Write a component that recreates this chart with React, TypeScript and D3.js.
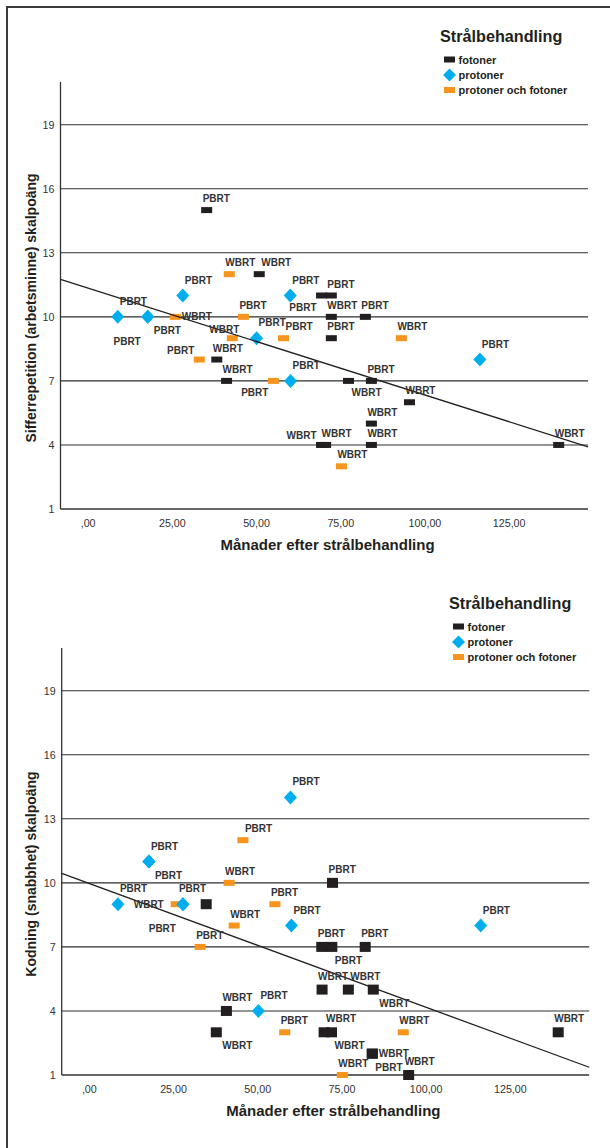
import * as d3 from 'd3'

type Pt = [number, number, string]

// ── Axes / labels ────────────────────────────────────────────────────────────
const X_TICKS = [0, 25, 50, 75, 100, 125]
const X_TICK_LABELS = [',00', '25,00', '50,00', '75,00', '100,00', '125,00']
const Y_TICKS = [1, 4, 7, 10, 13, 16, 19]
const X_DOMAIN: [number, number] = [-8.2, 148.4]
const Y_DOMAIN: [number, number] = [1, 21]

const LEGEND_TITLE = 'Strålbehandling'
const GROUP_NAMES = ['fotoner', 'protoner', 'protoner och fotoner']
const GROUP_COLORS = ['#231f20', '#00aeef', '#f7941d']
const X_TITLE = 'Månader efter strålbehandling'
const Y_TITLES = ['Sifferrepetition (arbetsminne) skalpoäng', 'Kodning (snabbhet) skalpoäng']

// ── Top chart: [months, score, case label] ──────────────────────────────────
const TOP_FOTONER: Pt[] = [
  [35.2, 15, 'PBRT'], [50.8, 12, 'WBRT'], [69.3, 11, 'PBRT'], [72.2, 11, 'PBRT'],
  [72.2, 10, 'WBRT'], [82.3, 10, 'PBRT'], [72.2, 9, 'PBRT'], [38.2, 8, 'WBRT'],
  [41.1, 7, 'WBRT'], [77.3, 7, 'WBRT'], [84.1, 7, 'PBRT'], [95.4, 6, 'WBRT'],
  [84.1, 5, 'WBRT'], [69.3, 4, 'WBRT'], [70.5, 4, 'WBRT'], [84.1, 4, 'WBRT'],
  [139.7, 4, 'WBRT'],
]
const TOP_PROTONER: Pt[] = [
  [8.8, 10, 'PBRT'], [17.7, 10, 'PBRT'], [17.7, 10, 'PBRT'], [28.1, 11, 'PBRT'],
  [60.0, 11, 'PBRT'], [50.0, 9, 'PBRT'], [116.3, 8, 'PBRT'], [60.1, 7, 'PBRT'],
]
const TOP_BOTH: Pt[] = [
  [41.9, 12, 'WBRT'], [25.9, 10, 'WBRT'], [46.1, 10, 'PBRT'], [42.8, 9, 'WBRT'],
  [58.0, 9, 'PBRT'], [93.0, 9, 'WBRT'], [33.0, 8, 'PBRT'], [55.0, 7, 'PBRT'],
  [75.2, 3, 'WBRT'],
]
const TOP_FIT = [11.35, -0.0501] // intercept, slope

// ── Bottom chart ─────────────────────────────────────────────────────────────
const BOT_FOTONER: Pt[] = [
  [72.2, 10, 'PBRT'], [34.7, 9, ''], [69.0, 7, 'PBRT'], [72.0, 7, 'PBRT'],
  [81.9, 7, 'PBRT'], [69.1, 5, 'WBRT'], [76.9, 5, 'WBRT'], [84.3, 5, 'WBRT'],
  [40.7, 4, 'WBRT'], [37.7, 3, 'WBRT'], [69.7, 3, 'WBRT'], [71.9, 3, 'WBRT'],
  [139.2, 3, 'WBRT'], [84.0, 2, 'WBRT'], [84.0, 2, 'PBRT'], [94.8, 1, 'WBRT'],
]
const BOT_PROTONER: Pt[] = [
  [59.7, 14, 'PBRT'], [17.7, 11, 'PBRT'], [17.7, 11, 'PBRT'], [8.5, 9, 'PBRT'],
  [27.8, 9, 'PBRT'], [27.8, 9, 'PBRT'], [60.0, 8, 'PBRT'], [116.2, 8, 'PBRT'],
  [50.2, 4, 'PBRT'],
]
const BOT_BOTH: Pt[] = [
  [45.6, 12, 'PBRT'], [41.5, 10, 'WBRT'], [25.8, 9, 'WBRT'], [55.1, 9, 'PBRT'],
  [43.0, 8, 'WBRT'], [32.9, 7, 'PBRT'], [58.0, 3, 'PBRT'], [93.2, 3, 'WBRT'],
  [75.1, 1, 'WBRT'],
]
const BOT_FIT = [9.97, -0.058]

// label placement hints (same order as the data above)
const TOP_PLACE = [
  ['n', 'ne', 'sw', 'n', 'n', 'n', 'n', 'n', 'n', 's', 'n', 'n', 'n', 'nw', 'n', 'n', 'n'],
  ['ne', 'se', 'sww', 'ne', 'ne', 'ne', 'ne', 'ne'],
  ['n', 'e', 'n', 'nl', 'ne', 'n', 'nw', 'sw', 'n'],
]
const BOT_PLACE = [
  ['n', '', 'n', 's', 'n', 'n', 'ne', 'se', 'n', 'se', 'ne', 's', 'n', 'e', 's', 'n'],
  ['ne', 'ne', 'se', 'ne', 'n', 'sww', 'ne', 'ne', 'ne'],
  ['ne', 'n', 'w', 'n', 'n', 'n', 'n', 'n', 'n'],
]

const FONT = "'Liberation Sans', Arial, sans-serif"
const INK = '#333'

const PANELS = [
  { dx: 0, dy: 0, blackH: 6, xTitleX: 327.5, legendX: 440, legendY: 36,
    groups: [TOP_FOTONER, TOP_PROTONER, TOP_BOTH], place: TOP_PLACE, fit: TOP_FIT, yTitle: Y_TITLES[0] },
  { dx: 1.2, dy: 566, blackH: 10, xTitleX: 333.4, legendX: 449, legendY: 603,
    groups: [BOT_FOTONER, BOT_PROTONER, BOT_BOTH], place: BOT_PLACE, fit: BOT_FIT, yTitle: Y_TITLES[1] },
]

function labelPos(code: string, cx: number, cy: number, hw: number, hh: number) {
  const below = cy + Math.min(hh, 5.5) + 12
  switch (code) {
    case 'n': return { x: cx - 4, y: cy - hh - 5, a: 'start' }
    case 'ne': return { x: cx + 2, y: cy - hh - 5, a: 'start' }
    case 'nw': return { x: cx - 5, y: cy - hh - 3, a: 'end' }
    case 'nl': return { x: cx + 7, y: cy - hh - 2, a: 'end' }
    case 's': return { x: cx + 3, y: below, a: 'start' }
    case 'se': return { x: cx + 6, y: below, a: 'start' }
    case 'sw': return { x: cx - 5, y: below, a: 'end' }
    case 'sww': return { x: cx - 7, y: below + 10.5, a: 'end' }
    case 'e': return { x: cx + hw + 1, y: cy + 3.5, a: 'start' }
    case 'w': return { x: cx - hw - 7, y: cy + 3.5, a: 'end' }
  }
  return null
}

function Marker({ g, cx, cy, h }: { g: number; cx: number; cy: number; h: number }) {
  if (g === 1) {
    return <path d={`M${cx},${cy - 7}L${cx + 6.5},${cy}L${cx},${cy + 7}L${cx - 6.5},${cy}Z`} fill={GROUP_COLORS[1]} />
  }
  return <rect x={cx - 5.5} y={cy - h / 2} width={11} height={h} fill={GROUP_COLORS[g]} />
}

function Panel({ p }: { p: typeof PANELS[number] }) {
  const x = d3.scaleLinear(X_DOMAIN, [60.5 + p.dx, 588 + p.dx])
  const y = d3.scaleLinear(Y_DOMAIN, [509 + p.dy, 82 + p.dy])
  const [x0, x1] = x.range()
  const [yb, yt] = y.range()
  const line = d3.line<number>().x(d => x(d)).y(d => y(p.fit[0] + p.fit[1] * d))
  const order = [0, 2, 1]
  const sizeOf = (g: number) => (g === 0 ? p.blackH : g === 2 ? 6 : 14)

  return (
    <g>
      {Y_TICKS.filter(t => t !== 1).map(t => (
        <line key={t} x1={x0} x2={x1} y1={y(t)} y2={y(t)} stroke="#2e2e2e" strokeWidth={1.1} />
      ))}
      <line x1={x0} x2={x1} y1={yb} y2={yb} stroke="#333" strokeWidth={1.3} />
      <line x1={x0} x2={x0} y1={yt} y2={yb} stroke="#333" strokeWidth={1.3} />

      {Y_TICKS.map(t => (
        <text key={t} x={x0 - 6} y={y(t) + 4} textAnchor="end" fontSize={10.7} fill={INK} fontFamily={FONT}>{t}</text>
      ))}
      {X_TICKS.map((t, i) => (
        <text key={t} x={x(t)} y={yb + 18} textAnchor="middle" fontSize={10.7} fill={INK} fontFamily={FONT}>{X_TICK_LABELS[i]}</text>
      ))}
      <text x={p.xTitleX} y={yb + 41} textAnchor="middle" fontSize={15} fontWeight="bold" fill="#231f20" fontFamily={FONT}>{X_TITLE}</text>
      <text transform={`translate(36,${yb - 201}) rotate(-90)`} textAnchor="middle" fontSize={14} fontWeight="bold" fill="#231f20" fontFamily={FONT}>{p.yTitle}</text>

      {order.map(g => p.groups[g].map((d, i) => (
        <Marker key={`${g}-${i}`} g={g} cx={x(d[0])} cy={y(d[1])} h={sizeOf(g)} />
      )))}

      <path d={line(X_DOMAIN) ?? ''} fill="none" stroke="#231f20" strokeWidth={1.3} />

      {order.map(g => p.groups[g].map((d, i) => {
        if (!d[2]) return null
        const hh = g === 1 ? 7 : sizeOf(g) / 2
        const hw = g === 1 ? 6.5 : 5.5
        const lp = labelPos(p.place[g][i], x(d[0]), y(d[1]), hw, hh)
        if (!lp) return null
        return (
          <text key={`l${g}-${i}`} x={lp.x} y={lp.y} textAnchor={lp.a} fontSize={10} fontWeight="bold" fill={INK} fontFamily={FONT}>{d[2]}</text>
        )
      }))}

      {/* legend */}
      <text x={p.legendX} y={p.legendY + 5.5} fontSize={16.2} fontWeight="bold" fill="#231f20" fontFamily={FONT}>{LEGEND_TITLE}</text>
      {GROUP_NAMES.map((name, g) => {
        const cy = p.legendY + [23.5, 39, 54][g]
        const cx = p.legendX + 9.5
        return (
          <g key={name}>
            {g === 1
              ? <path d={`M${cx},${cy - 6.5}L${cx + 6.5},${cy}L${cx},${cy + 6.5}L${cx - 6.5},${cy}Z`} fill={GROUP_COLORS[1]} />
              : <rect x={cx - 5.5} y={cy - 3} width={11} height={6} fill={GROUP_COLORS[g]} />}
            <text x={p.legendX + 18.5} y={cy + 4} fontSize={11} fontWeight="bold" fill="#231f20" fontFamily={FONT}>{name}</text>
          </g>
        )
      })}
    </g>
  )
}

export default function App() {
  return (
    <svg width={610} height={1148} style={{ position: 'absolute', left: 0, top: 0, background: '#fff' }}>
      <rect width={610} height={1148} fill="#fff" />
      <path d="M7,1148V7H610" fill="none" stroke="#3a3a3a" strokeWidth={2} />
      {PANELS.map((p, i) => <Panel key={i} p={p} />)}
    </svg>
  )
}
